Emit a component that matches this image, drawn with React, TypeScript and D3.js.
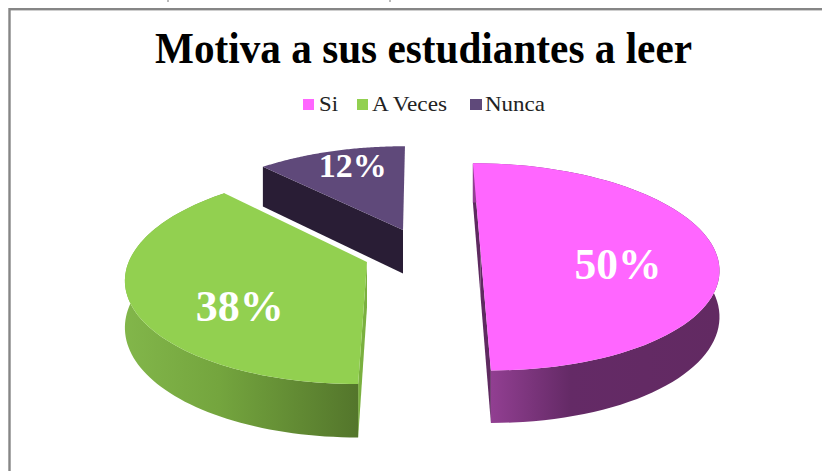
import React from 'react';
import * as d3 from 'd3';

const categories = ['Si', 'A Veces', 'Nunca'];
const values = [50, 38, 12];
const labels = ['50%', '38%', '12%'];
const colors = ['#FF66FF', '#92D050', '#5F497A'];
const title = 'Motiva a sus estudiantes a leer';

const W = 822, H = 471;
const R = 235;          // ground-plane radius
const K = 0.143;        // perspective strength
const VX = 419, VY = -458, Y0 = 252; // vanishing point and ground reference
const DROP = 45;        // extrusion height

// Exploded centre of each slice on the ground plane (x in px, z in radii)
const centres = [
  { x: 480.6, z: 0 },
  { x: 367.7, z: -0.097 },
  { x: 402.5, z: 0.224 },
];
const labelPos = [
  { r: 0.58, size: 45, len: 87, dx: 1, dy: 12 },
  { r: 0.52, size: 45, len: 88, dx: -4, dy: 23 },
  { r: 0.72, size: 33, len: 68, dx: 2, dy: -7 },
];
const legendSquareX = [303, 357, 470];
const legendSquareW = [11, 11, 12];
const legendTextX = [319, 372, 485];
const legendTextLen = [19, 75, 60];

function project(x: number, z: number, lift = 0): [number, number] {
  const f = 1 / (1 + K * z);
  return [VX + (x - VX) * f, VY + (Y0 - VY) * f + DROP * f * lift];
}
function rim(i: number, a: number, lift = 0): [number, number] {
  const c = centres[i];
  return project(c.x + R * Math.sin(a), c.z + Math.cos(a), lift);
}
const apex = (i: number, lift = 0) => project(centres[i].x, centres[i].z, lift);

const arcs = d3.pie<number>().sort(null)(values);
const line = d3.line();

function samples(a0: number, a1: number) {
  const n = 80;
  return d3.range(n + 1).map((k) => a0 + ((a1 - a0) * k) / n);
}

export default function App() {
  const draw = [2, 1, 0];
  const font = '"Liberation Serif", "Times New Roman", serif';
  return (
    <svg width={W} height={H} style={{ position: 'absolute', left: 0, top: 0, background: '#fff' }} fontFamily={font}>
      <defs>
        <linearGradient id="wall0" gradientUnits="userSpaceOnUse" x1={490} x2={720} y1={0} y2={0}>
          <stop offset="0" stopColor="#923F92" />
          <stop offset="0.35" stopColor="#642A66" />
          <stop offset="1" stopColor="#622A62" />
        </linearGradient>
        <linearGradient id="wall1" gradientUnits="userSpaceOnUse" x1={125} x2={360} y1={0} y2={0}>
          <stop offset="0" stopColor="#82B64A" />
          <stop offset="0.4" stopColor="#74A53E" />
          <stop offset="1" stopColor="#53752B" />
        </linearGradient>
      </defs>
      <rect x={9.5} y={9.2} width={830} height={480} fill="none" stroke="#868686" strokeWidth={2.4} />
      <path d="M168 0V2M390 0V2" stroke="#777" strokeWidth={1} />
      <text x={155} y={63} fontSize={45} fontWeight="bold" fill="#000" textLength={537} lengthAdjust="spacingAndGlyphs">{title}</text>
      {categories.map((c, i) => (
        <g key={c}>
          <rect x={legendSquareX[i]} y={99} width={legendSquareW[i]} height={11} fill={colors[i]} />
          <text x={legendTextX[i]} y={111} fontSize={21} fill="#222" textLength={legendTextLen[i]} lengthAdjust="spacingAndGlyphs">{c}</text>
        </g>
      ))}
      {draw.map((i) => {
        const { startAngle: a0, endAngle: a1 } = arcs[i];
        const top = samples(a0, a1).map((a) => rim(i, a));
        const bottom = samples(a0, a1).map((a) => rim(i, a, 1)).reverse();
        const outer = line([...top, ...bottom]) + 'Z';
        const face = line([apex(i), ...top]) + 'Z';
        const wallAngles = i === 0 ? [a0, a1] : [a0];
        const innerFill = i === 0 ? '#5E2A60' : i === 1 ? '#7AB03F' : '#291D35';
        const c = (a0 + a1) / 2;
        const [lx, ly] = rim(i, c);
        const [ax, ay] = apex(i);
        const p = labelPos[i];
        return (
          <g key={i}>
            {wallAngles.map((w) => (
              <path key={w} d={line([apex(i), rim(i, w), rim(i, w, 1), apex(i, 1)]) + 'Z'} fill={innerFill} />
            ))}
            {i < 2 && <path d={outer} fill={`url(#wall${i})`} />}
            <path d={face} fill={colors[i]} />
            <text
              x={ax + (lx - ax) * p.r + p.dx - p.len / 2}
              y={ay + (ly - ay) * p.r + p.size * 0.33 + p.dy}
              fontSize={p.size}
              fontWeight="bold"
              fill="#fff"
              textLength={p.len}
              lengthAdjust="spacingAndGlyphs"
            >
              {labels[i]}
            </text>
          </g>
        );
      })}
    </svg>
  );
}
